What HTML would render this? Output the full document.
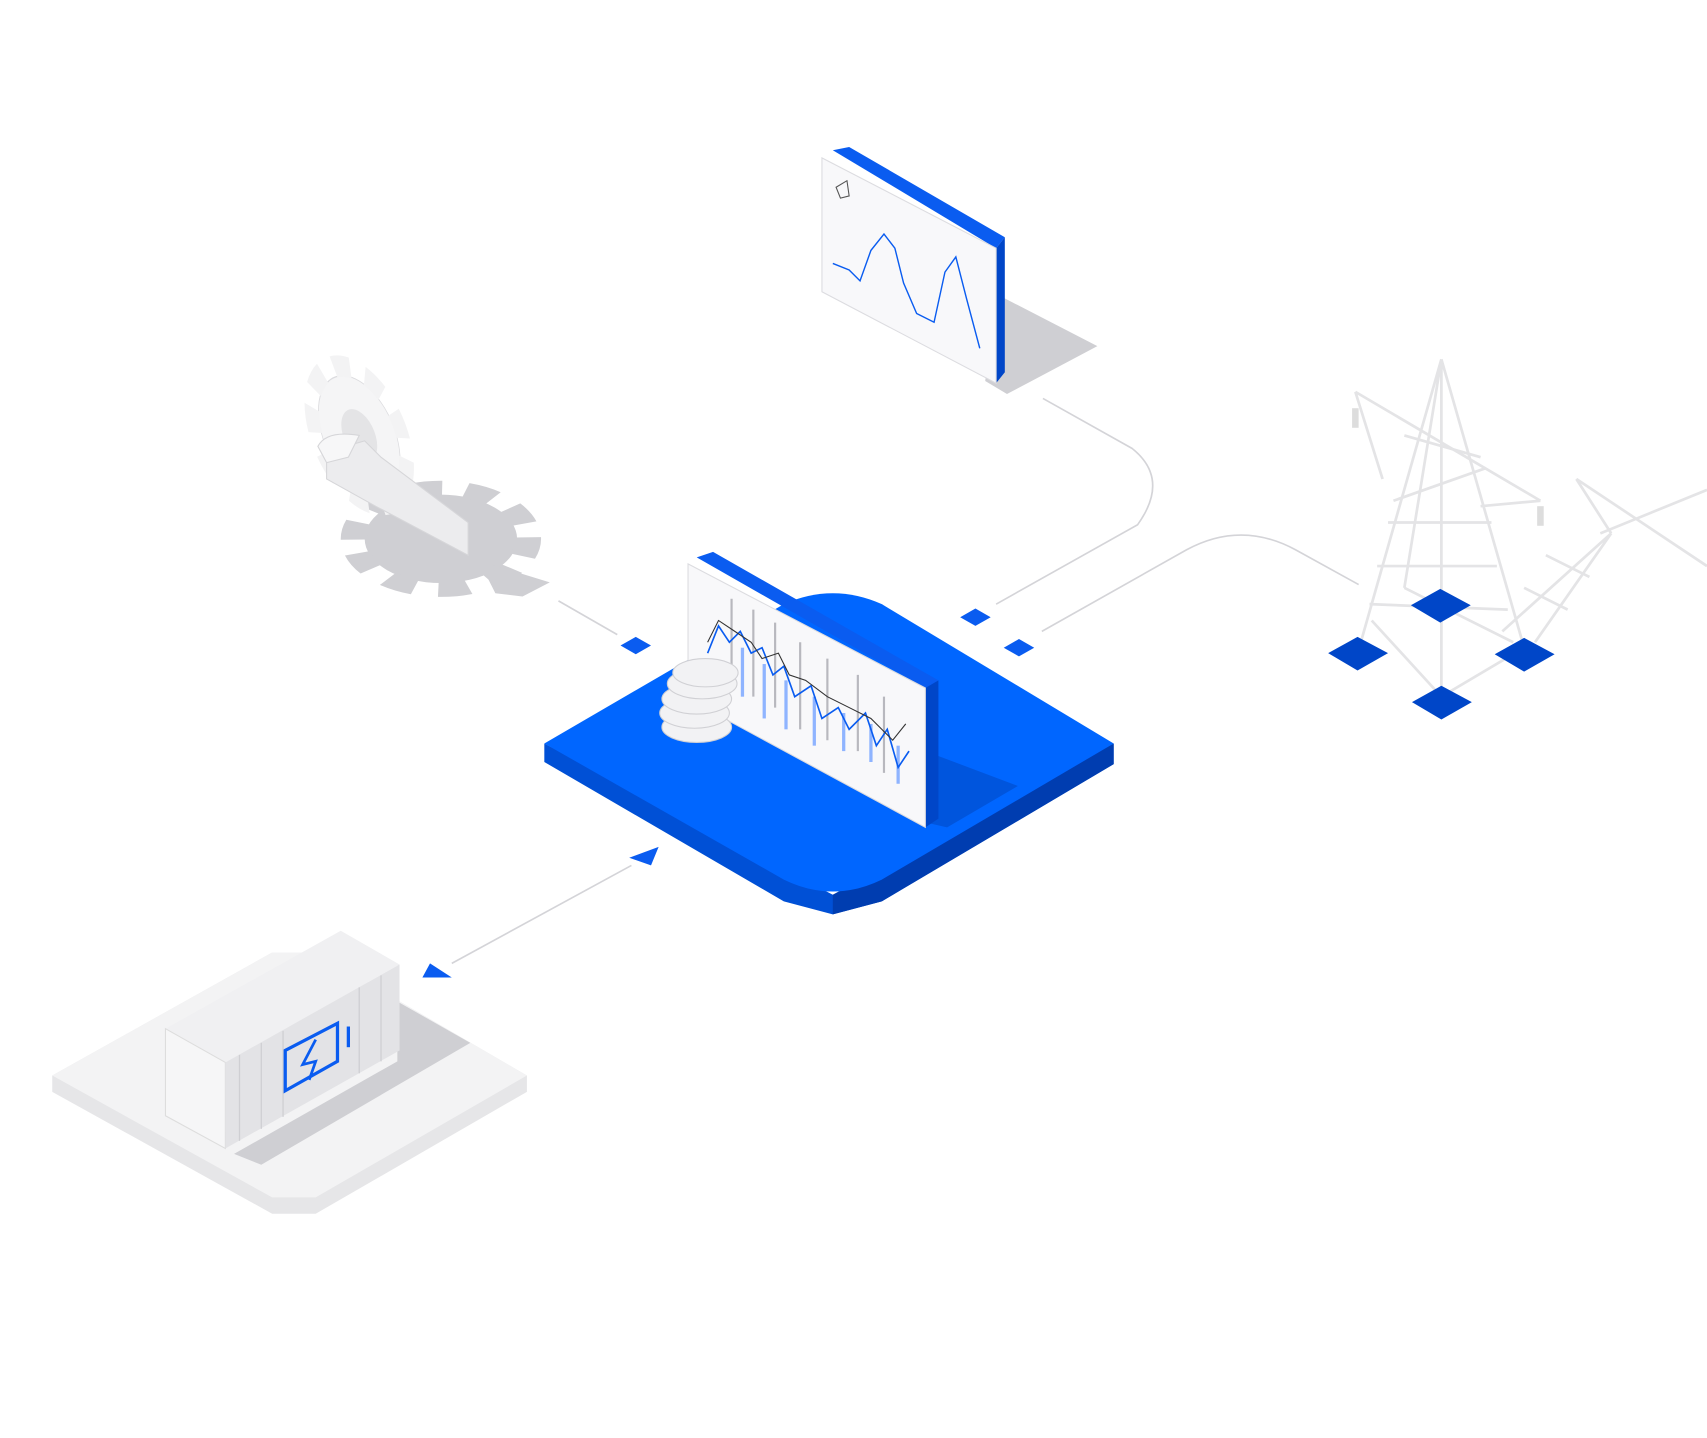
<!DOCTYPE html>
<html><head><meta charset="utf-8"><style>
html,body{margin:0;padding:0;background:#fff;}
svg{display:block;}
</style></head><body>
<svg width="1707" height="1438" viewBox="0 0 1568 1321" preserveAspectRatio="none" xmlns="http://www.w3.org/2000/svg">
<rect width="1568" height="1321" fill="#fff"/>
<g fill="none" stroke="#d4d4d8" stroke-width="1.5">
<path d="M958 366 L1040 412 Q1075 440 1045 482 L915 555"/>
<path d="M957 580 L1090 505 Q1140 478 1190 505 L1248 537"/>
<line x1="513" y1="552" x2="567" y2="583"/>
<line x1="415" y1="885" x2="580" y2="795"/>
</g>
<g fill="#0a5cf0">
<polygon points="570,593 584,585 598,593 584,601"/>
<polygon points="882,567 896,559 910,567 896,575"/>
<polygon points="922,595 936,587 950,595 936,603"/>
<polygon points="578,788 605,778 598,795"/>
<polygon points="388,898 395,885 415,898"/>
</g>
<!-- container platform -->
<polygon points="48,988 250,875 290,875 484,988 484,1003 290,1115 250,1115 48,1003" fill="#e6e6e8"/>
<polygon points="48,988 250,875 290,875 484,988 290,1100 250,1100" fill="#f3f3f4"/>
<polygon points="215,1060 365,975 365,920 432,958 240,1070" fill="#cfcfd3"/>
<polygon points="152,945 313,855 367,886 207,976" fill="#f0f0f2"/>
<polygon points="152,945 207,976 207,1055 152,1025" fill="#f6f6f7" stroke="#ddd"/>
<polygon points="207,976 367,886 367,965 207,1055" fill="#e3e3e6"/>
<g stroke="#cfcfd3" stroke-width="1.2">
<line x1="220" y1="969" x2="220" y2="1048"/><line x1="240" y1="958" x2="240" y2="1037"/><line x1="260" y1="947" x2="260" y2="1026"/><line x1="330" y1="907" x2="330" y2="986"/><line x1="350" y1="896" x2="350" y2="975"/>
</g>
<polygon points="262,965 310,940 310,975 262,1002" fill="none" stroke="#0a5cf0" stroke-width="3"/>
<path d="M290 955 L278 978 L290 975 L284 992" fill="none" stroke="#0a5cf0" stroke-width="2.5"/>
<line x1="320" y1="943" x2="320" y2="962" stroke="#0a5cf0" stroke-width="3"/>
<!-- back gear (flat) -->
<g transform="translate(405,495) scale(1,0.58)">
<circle r="70" fill="#cfcfd3"/>
<circle r="80" fill="none" stroke="#cfcfd3" stroke-width="24" stroke-dasharray="28 22"/>
</g>
<polygon points="440,515 505,535 480,548 455,545" fill="#cfcfd3"/>
<!-- front gear (vertical) -->
<g transform="translate(330,400) matrix(0.75,0.45,0,1,0,0)">
<circle r="50" fill="#f5f5f6" stroke="#dcdcdf"/>
<circle r="58" fill="none" stroke="#f3f3f4" stroke-width="18" stroke-dasharray="22 18"/>
<circle r="22" fill="#e4e4e6"/>
</g>
<polygon points="300,415 335,405 350,420 430,480 430,510 345,465 300,440" fill="#ececee" stroke="#d6d6d9"/>
<path d="M292 410 Q300 395 330 400 L320 420 L300 425 Z" fill="#f7f7f8" stroke="#d6d6d9"/>
<!-- main platform -->
<polygon points="500,683 500,700 720,828 765,840 810,828 1023,702 1023,683 765,822" fill="#0050d6"/>
<polygon points="1023,683 1023,702 810,828 765,840 765,822" fill="#003db0"/>
<path d="M500 683 L720 555 Q765 535 810 555 L1023 683 L810 808 Q765 830 720 808 Z" fill="#0066ff"/>
<polygon points="850,690 935,722 870,760 848,755" fill="#0055dd"/>
<!-- center panel -->
<polygon points="640,512 655,507 862,625 850,632" fill="#0a5cf0"/>
<polygon points="850,632 862,625 862,752 850,760" fill="#0046c8"/>
<polygon points="632,518 850,632 850,760 632,642" fill="#f8f8fa" stroke="#dcdce0"/>
<g stroke="#b8b8be" stroke-width="2">
<line x1="672" y1="550" x2="672" y2="620"/><line x1="692" y1="560" x2="692" y2="640"/><line x1="712" y1="572" x2="712" y2="650"/><line x1="735" y1="590" x2="735" y2="670"/><line x1="760" y1="605" x2="760" y2="680"/><line x1="788" y1="620" x2="788" y2="690"/><line x1="812" y1="640" x2="812" y2="710"/>
</g>
<g stroke="#8fb4ff" stroke-width="3">
<line x1="682" y1="595" x2="682" y2="640"/><line x1="702" y1="610" x2="702" y2="660"/><line x1="722" y1="625" x2="722" y2="670"/><line x1="748" y1="640" x2="748" y2="685"/><line x1="775" y1="655" x2="775" y2="690"/><line x1="800" y1="665" x2="800" y2="700"/><line x1="825" y1="685" x2="825" y2="720"/>
</g>
<path d="M650 600 L660 575 L670 590 L680 580 L690 600 L700 595 L710 620 L720 612 L730 640 L745 630 L755 660 L770 650 L780 670 L795 655 L805 685 L815 670 L825 705 L835 690" fill="none" stroke="#0a5cf0" stroke-width="1.5"/>
<path d="M650 590 L660 570 L675 580 L690 590 L700 605 L715 600 L725 620 L740 625 L760 640 L780 650 L800 660 L820 680 L832 665" fill="none" stroke="#333" stroke-width="1"/>
<g fill="#f2f2f4" stroke="#d0d0d4">
<ellipse cx="640" cy="668" rx="32" ry="14"/><ellipse cx="638" cy="655" rx="32" ry="14"/><ellipse cx="640" cy="642" rx="32" ry="14"/><ellipse cx="645" cy="628" rx="32" ry="14"/><ellipse cx="648" cy="618" rx="30" ry="13"/>
</g>
<!-- top monitor -->
<polygon points="915,270 1008,318 925,362 905,350" fill="#cfcfd3"/>
<polygon points="765,138 780,135 923,218 915,228" fill="#0a5cf0"/>
<polygon points="915,228 923,218 923,342 915,352" fill="#0046c8"/>
<polygon points="755,145 915,228 915,352 755,268" fill="#f8f8fa" stroke="#dcdce0"/>
<path d="M765 242 L780 248 L790 258 L800 230 L812 215 L822 228 L830 260 L842 288 L858 296 L868 250 L878 236 L888 275 L900 320" fill="none" stroke="#0a5cf0" stroke-width="1.3"/>
<polygon points="768,172 778,166 780,180 772,182" fill="none" stroke="#555" stroke-width="1"/>
<!-- tower -->
<g fill="none" stroke="#e4e4e6" stroke-width="2.5">
<path d="M1324 330 L1250 590 M1324 330 L1400 595 M1324 330 L1324 640 M1324 330 L1290 540"/>
<path d="M1245 360 L1415 460 M1245 360 L1270 440 M1415 460 L1360 465"/>
<path d="M1280 460 L1365 430 M1275 480 L1370 480 M1265 520 L1375 520 M1258 555 L1385 560 M1290 400 L1360 420 M1290 540 L1390 590 M1260 570 L1324 640 L1400 595"/>
<path d="M1448 440 L1568 520 M1448 440 L1480 490 M1568 450 L1470 490 M1480 490 L1410 590 M1480 490 L1380 580 M1400 540 L1440 560 M1420 510 L1460 530"/>
</g>
<rect x="1242" y="375" width="6" height="18" fill="#ddd"/><rect x="1412" y="465" width="6" height="18" fill="#ddd"/>
<g fill="#0046c8">
<polygon points="1220,600 1247,585 1275,600 1247,616"/>
<polygon points="1296,556 1323,541 1351,556 1323,572"/>
<polygon points="1373,601 1400,586 1428,601 1400,617"/>
<polygon points="1297,645 1324,630 1352,645 1324,661"/>
</g>
</svg>
</body></html>
